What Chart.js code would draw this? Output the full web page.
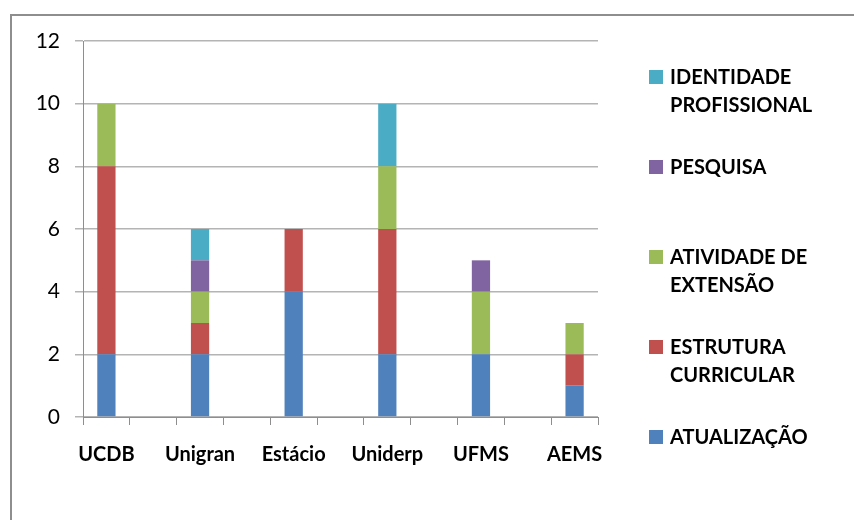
<!DOCTYPE html>
<html>
<head>
<meta charset="utf-8">
<script src="https://cdn.jsdelivr.net/npm/chart.js@4.4.0/dist/chart.umd.min.js"></script>
<style>
  body { margin: 0; background: #fff; }
  #wrap { position: relative; width: 854px; height: 520px; overflow: hidden; }
  #frame { position: absolute; left: 10px; top: 14px; width: 900px; height: 600px;
           border-left: 2px solid #8e8e8e; border-top: 2px solid #8e8e8e; }
  canvas { position: absolute; left: 0; top: 0; }
  #legend { position: absolute; left: 649px; top: 62px; font-family: Lato, sans-serif;
            font-weight: bold; font-size: 20px; line-height: 28px; color: #000; }
  .item { position: relative; height: 90px; padding-left: 21px; }
  .box { position: absolute; left: 0; top: 8px; width: 14px; height: 14px; }
</style>
</head>
<body>
<div id="wrap">
  <div id="frame"></div>
  <canvas id="chart" width="854" height="520"></canvas>
  <div id="legend"></div>
</div>
<script>
// categories (empty slots are spacer categories in the original sheet)
const categories = ['UCDB', '', 'Unigran', '', 'Estácio', '', 'Uniderp', '', 'UFMS', '', 'AEMS'];

// series values, bottom to top
const atualizacao = [2, null, 2, null, 4, null, 2, null, 2, null, 1];
const estrutura   = [6, null, 1, null, 2, null, 4, null, 0, null, 1];
const extensao    = [2, null, 1, null, 0, null, 2, null, 2, null, 1];
const pesquisa    = [0, null, 1, null, 0, null, 0, null, 1, null, 0];
const identidade  = [0, null, 1, null, 0, null, 2, null, 0, null, 0];

const yTicks = [0, 2, 4, 6, 8, 10, 12];

const series = [
    { label: ['ATUALIZAÇÃO'], data: atualizacao, color: '#4f81bd' },
    { label: ['ESTRUTURA', 'CURRICULAR'], data: estrutura, color: '#c0504d' },
    { label: ['ATIVIDADE DE', 'EXTENSÃO'], data: extensao, color: '#9bbb59' },
    { label: ['PESQUISA'], data: pesquisa, color: '#8064a2' },
    { label: ['IDENTIDADE', 'PROFISSIONAL'], data: identidade, color: '#4bacc6' }
];

const font = 'Lato';

new Chart(document.getElementById('chart'), {
    type: 'bar',
    data: {
        labels: categories,
        datasets: series.map(s => ({
            label: s.label.join(' '),
            data: s.data,
            backgroundColor: s.color,
            borderWidth: 0,
            barPercentage: 0.39,
            categoryPercentage: 1.0
        }))
    },
    options: {
        responsive: false,
        animation: false,
        layout: { padding: { top: 41, right: 256, left: 0, bottom: 0 } },
        plugins: { legend: { display: false }, tooltip: { enabled: false } },
        scales: {
            x: {
                stacked: true,
                grid: { drawOnChartArea: false, drawTicks: true, tickLength: 8, color: '#8e8e8e', offset: true },
                border: { color: '#8e8e8e' },
                ticks: { autoSkip: false, maxRotation: 0, padding: 18, color: '#000',
                         font: { family: font, size: 20, weight: 'bold' } },
                afterFit: scale => { scale.height = 103; }
            },
            y: {
                stacked: true,
                min: 0,
                max: 12,
                afterBuildTicks: scale => { scale.ticks = yTicks.map(v => ({ value: v })); },
                grid: { color: '#b4b4b4', tickLength: 8, lineWidth: 1.5 },
                border: { color: '#8e8e8e' },
                ticks: { padding: 15, color: '#000', font: { family: font, size: 21 } },
                afterFit: scale => { scale.width = 83; }
            }
        }
    }
});

// legend, listed top-down in reverse stacking order
const legend = document.getElementById('legend');
series.slice().reverse().forEach(s => {
    const item = document.createElement('div');
    item.className = 'item';
    item.innerHTML = '<span class="box" style="background:' + s.color + '"></span>' + s.label.join('<br>');
    legend.appendChild(item);
});
</script>
</body>
</html>
